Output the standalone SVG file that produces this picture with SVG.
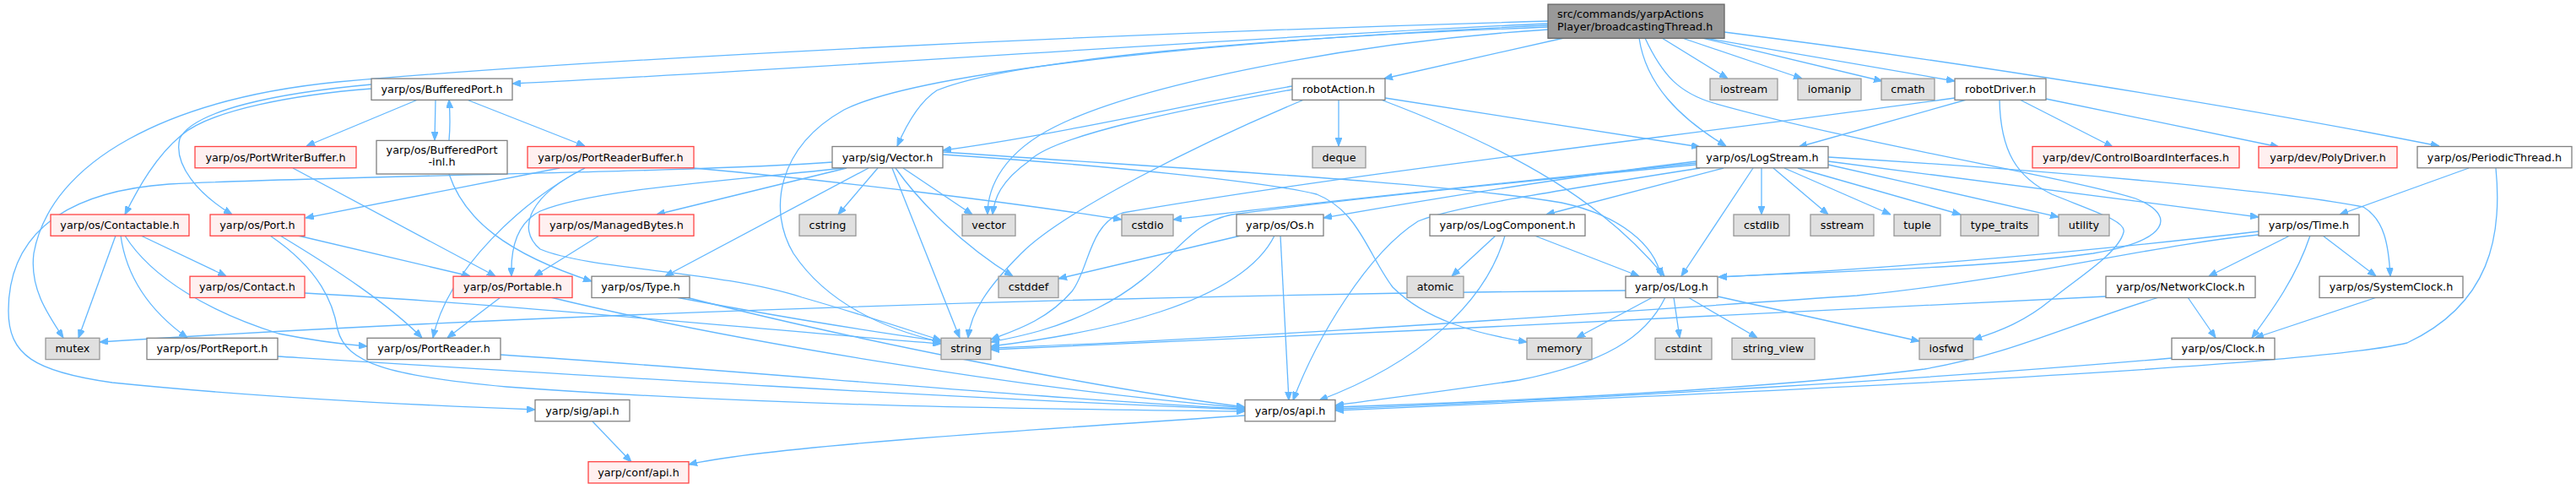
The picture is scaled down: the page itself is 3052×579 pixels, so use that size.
<svg xmlns="http://www.w3.org/2000/svg" width="3052" height="579" viewBox="0 0 3052 579">
<style>
text{font-family:"DejaVu Sans","Liberation Sans",sans-serif;font-size:12.8px;text-anchor:middle;fill:#000}
.n rect{fill:#fff;stroke:#808080;stroke-width:1.3}
.s rect{fill:#e0e0e0;stroke:#999;stroke-width:1.3}
.r rect{fill:#fff0f0;stroke:#f44;stroke-width:1.3}
.root rect{fill:#999;stroke:#666;stroke-width:1.3}
#edges path{fill:none;stroke:#63b8ff;stroke-width:1.3;marker-end:url(#a)}
</style>
<defs>
<marker id="a" markerWidth="10" markerHeight="8" refX="10" refY="4" orient="auto" markerUnits="userSpaceOnUse"><path d="M0,0L10,4L0,8z" fill="#63b8ff" stroke="#63b8ff" stroke-width="1"/></marker>
</defs>
<rect width="3052" height="579" fill="#fff"/>
<g id="edges">
<path d="M1834,28 C1500,42 1000,80 607,99"/>
<path d="M1834,25 C1300,40 700,70 400,97 C200,117 60,190 40,300 C35,340 55,370 75,400"/>
<path d="M1853,45 L1640,93"/>
<path d="M1942,45 C1950,100 1990,140 2045,173"/>
<path d="M1969,45 L2047,93"/>
<path d="M1993,45 L2135,93"/>
<path d="M2017,45 L2230,96"/>
<path d="M2020,45 L2316,96"/>
<path d="M2043,38 C2300,70 2650,125 2890,173"/>
<path d="M1834,32 C1500,45 1200,70 1110,107 C1090,120 1075,145 1063,173"/>
<path d="M1834,35 C1600,50 1350,100 1250,150 C1190,180 1170,220 1170,254"/>
<path d="M1834,30 C1500,45 1100,80 1000,130 C920,175 910,250 940,300 C980,360 1050,390 1115,405"/>
<path d="M1949,45 C1970,90 1990,110 2030,122 C2200,170 2450,210 2530,235 C2580,255 2570,285 2480,300 C2350,318 2150,322 2036,328"/>
<path d="M1586,118 L1586,173"/>
<path d="M1531,102 C1400,125 1250,160 1117,178"/>
<path d="M1531,106 C1400,130 1250,160 1220,190 C1185,215 1178,235 1176,254"/>
<path d="M1545,118 C1420,170 1260,250 1210,300 C1170,340 1150,370 1147,400"/>
<path d="M1641,116 L2014,174"/>
<path d="M1636,118 C1800,180 1900,240 1972,327"/>
<path d="M1117,180 C1400,200 1700,215 1850,240 C1920,255 1960,290 1968,327"/>
<path d="M1117,183 C1300,195 1500,215 1560,230 C1610,250 1620,300 1650,340 C1690,380 1750,395 1809,405"/>
<path d="M2330,118 L2131,174"/>
<path d="M2316,116 C2000,160 1600,205 1330,252 C1290,265 1290,320 1270,345 C1240,380 1200,392 1174,402"/>
<path d="M2393,118 L2503,174"/>
<path d="M2424,117 L2700,174"/>
<path d="M2369,118 C2370,180 2390,210 2431,230 C2480,250 2520,262 2516,275 C2510,300 2460,330 2430,355 C2400,380 2370,392 2338,402"/>
<path d="M2087,199 L2087,254"/>
<path d="M2101,199 L2166,254"/>
<path d="M2114,199 L2240,254"/>
<path d="M2130,199 L2323,254"/>
<path d="M2166,195 L2439,257"/>
<path d="M2166,191 L2676,257"/>
<path d="M2166,186 C2400,200 2700,225 2800,245 C2825,260 2830,290 2832,327"/>
<path d="M2077,199 L1992,327"/>
<path d="M2010,191 C1850,210 1700,235 1568,258"/>
<path d="M2010,193 C1800,215 1550,240 1390,260"/>
<path d="M2010,195 C1800,215 1600,235 1460,254 C1400,265 1390,320 1300,365 C1250,390 1210,398 1174,405"/>
<path d="M2014,199 C1850,225 1720,245 1680,262 C1620,300 1560,400 1532,474"/>
<path d="M2042,199 L1832,254"/>
<path d="M1772,279 L1720,327"/>
<path d="M1783,279 C1760,360 1680,430 1563,474"/>
<path d="M1818,279 L1942,327"/>
<path d="M1470,279 L1254,330"/>
<path d="M1510,279 C1470,360 1300,395 1174,410"/>
<path d="M1517,279 L1527,474"/>
<path d="M1926,344 C1200,350 500,380 118,405"/>
<path d="M1958,352 L1868,400"/>
<path d="M1983,352 L1990,400"/>
<path d="M2000,352 L2082,400"/>
<path d="M2035,351 L2274,404"/>
<path d="M1973,352 C1950,400 1900,430 1800,450 C1700,465 1640,472 1582,480"/>
<path d="M2676,274 C2500,295 2250,318 2036,328"/>
<path d="M2676,278 C2550,290 2400,330 2200,350 C1900,370 1500,400 1174,412"/>
<path d="M2713,279 L2617,327"/>
<path d="M2752,279 L2815,327"/>
<path d="M2737,279 C2720,330 2690,370 2668,400"/>
<path d="M2592,352 L2625,400"/>
<path d="M2558,352 C2450,385 2380,420 2280,437 C2100,460 1800,475 1582,482"/>
<path d="M2495,351 C2200,368 1600,395 1174,414"/>
<path d="M2816,352 L2672,400"/>
<path d="M2573,424 C2300,448 1900,472 1582,484"/>
<path d="M2925,199 L2772,254"/>
<path d="M2957,199 C2965,280 2950,360 2852,406 C2750,430 2300,455 1582,486"/>
<path d="M516,118 L515,166"/>
<path d="M532,166 C534,145 533,132 532,118"/>
<path d="M553,118 L693,173"/>
<path d="M495,118 L363,173"/>
<path d="M440,105 C350,112 250,130 215,160 C185,185 165,220 148,254"/>
<path d="M440,100 C330,110 230,130 213,164 C205,195 235,230 275,254"/>
<path d="M347,199 L587,327"/>
<path d="M663,199 L362,258"/>
<path d="M693,199 C620,236 530,320 513,400"/>
<path d="M693,199 C630,230 610,270 640,295 C700,320 850,320 950,352 C1030,375 1080,392 1115,403"/>
<path d="M822,199 C1000,215 1200,240 1329,260"/>
<path d="M986,192 C800,205 400,208 200,218 C60,228 10,290 10,368 C10,420 40,440 133,453 C300,470 500,480 634,485"/>
<path d="M1000,199 C850,215 700,225 640,250 C610,265 605,300 606,327"/>
<path d="M1003,199 L778,254"/>
<path d="M1029,199 L788,327"/>
<path d="M1040,199 L993,254"/>
<path d="M1057,199 L1137,400"/>
<path d="M1061,199 C1090,240 1140,290 1200,327"/>
<path d="M1070,199 L1152,254"/>
<path d="M710,279 L633,327"/>
<path d="M137,279 L93,400"/>
<path d="M167,279 L268,327"/>
<path d="M143,279 C150,330 180,370 222,400"/>
<path d="M148,279 C180,330 250,370 330,395 C380,405 410,408 435,410"/>
<path d="M320,279 C380,320 395,360 400,390 C410,430 460,445 600,458 C900,480 1200,484 1475,487"/>
<path d="M332,279 C400,320 460,360 500,400"/>
<path d="M353,279 L557,327"/>
<path d="M361,347 C600,360 900,390 1115,407"/>
<path d="M329,422 C700,445 1100,470 1475,485"/>
<path d="M593,420 C900,440 1200,470 1475,484"/>
<path d="M593,352 L530,400"/>
<path d="M652,352 C850,400 1200,460 1475,483"/>
<path d="M801,352 C950,380 1050,395 1115,404"/>
<path d="M813,352 C1000,400 1300,460 1475,482"/>
<path d="M532,206 C550,260 600,300 701,333"/>
<path d="M1475,492 C1200,510 900,530 816,550"/>
<path d="M702,499 L748,547"/>
</g>
<g id="src" class="root"><rect x="1834" y="5.1" width="209" height="40.2"/><text x="1845" y="21" style="text-anchor:start">src/commands/yarpActions</text><text x="1845" y="35.6" style="text-anchor:start">Player/broadcastingThread.h</text></g>
<g id="bufferedport" class="n"><rect x="440" y="93.1" width="167" height="25.3"/><text x="523.5" y="110.1">yarp/os/BufferedPort.h</text></g>
<g id="robotaction" class="n"><rect x="1531" y="93.1" width="110" height="25.3"/><text x="1586" y="110.1">robotAction.h</text></g>
<g id="iostream" class="s"><rect x="2026" y="93.1" width="80" height="25.3"/><text x="2066" y="110.1">iostream</text></g>
<g id="iomanip" class="s"><rect x="2130" y="93.1" width="75" height="25.3"/><text x="2167.5" y="110.1">iomanip</text></g>
<g id="cmath" class="s"><rect x="2229" y="93.1" width="63" height="25.3"/><text x="2260.5" y="110.1">cmath</text></g>
<g id="robotdriver" class="n"><rect x="2316" y="93.1" width="108" height="25.3"/><text x="2370" y="110.1">robotDriver.h</text></g>
<g id="portwriterbuffer" class="r"><rect x="231" y="173.5" width="191" height="25.3"/><text x="326.5" y="190.6">yarp/os/PortWriterBuffer.h</text></g>
<g id="bufferedportinl" class="n"><rect x="446" y="166.4" width="155" height="39.6"/><text x="523.5" y="182.3">yarp/os/BufferedPort</text><text x="523.5" y="196">-inl.h</text></g>
<g id="portreaderbuffer" class="r"><rect x="625" y="173.5" width="197" height="25.3"/><text x="723.5" y="190.6">yarp/os/PortReaderBuffer.h</text></g>
<g id="sigvector" class="n"><rect x="986" y="173.5" width="131" height="25.3"/><text x="1051.5" y="190.6">yarp/sig/Vector.h</text></g>
<g id="deque" class="s"><rect x="1555" y="173.5" width="63" height="25.3"/><text x="1586.5" y="190.6">deque</text></g>
<g id="logstream" class="n"><rect x="2010" y="173.5" width="156" height="25.3"/><text x="2088" y="190.6">yarp/os/LogStream.h</text></g>
<g id="controlboard" class="r"><rect x="2408" y="173.5" width="245" height="25.3"/><text x="2530.5" y="190.6">yarp/dev/ControlBoardInterfaces.h</text></g>
<g id="polydriver" class="r"><rect x="2676" y="173.5" width="164" height="25.3"/><text x="2758" y="190.6">yarp/dev/PolyDriver.h</text></g>
<g id="periodicthread" class="n"><rect x="2864" y="173.5" width="183" height="25.3"/><text x="2955.5" y="190.6">yarp/os/PeriodicThread.h</text></g>
<g id="contactable" class="r"><rect x="60" y="254" width="164" height="25.3"/><text x="142" y="271">yarp/os/Contactable.h</text></g>
<g id="port" class="r"><rect x="249" y="254" width="112" height="25.3"/><text x="305" y="271">yarp/os/Port.h</text></g>
<g id="managedbytes" class="r"><rect x="639" y="254" width="183" height="25.3"/><text x="730.5" y="271">yarp/os/ManagedBytes.h</text></g>
<g id="cstring" class="s"><rect x="947" y="254" width="67" height="25.3"/><text x="980.5" y="271">cstring</text></g>
<g id="vector" class="s"><rect x="1140" y="254" width="63" height="25.3"/><text x="1171.5" y="271">vector</text></g>
<g id="cstdio" class="s"><rect x="1329" y="254" width="61" height="25.3"/><text x="1359.5" y="271">cstdio</text></g>
<g id="os" class="n"><rect x="1465" y="254" width="103" height="25.3"/><text x="1516.5" y="271">yarp/os/Os.h</text></g>
<g id="logcomponent" class="n"><rect x="1694" y="254" width="184" height="25.3"/><text x="1786" y="271">yarp/os/LogComponent.h</text></g>
<g id="cstdlib" class="s"><rect x="2054" y="254" width="66" height="25.3"/><text x="2087" y="271">cstdlib</text></g>
<g id="sstream" class="s"><rect x="2145" y="254" width="75" height="25.3"/><text x="2182.5" y="271">sstream</text></g>
<g id="tuple" class="s"><rect x="2244" y="254" width="55" height="25.3"/><text x="2271.5" y="271">tuple</text></g>
<g id="typetraits" class="s"><rect x="2323" y="254" width="92" height="25.3"/><text x="2369" y="271">type_traits</text></g>
<g id="utility" class="s"><rect x="2439" y="254" width="60" height="25.3"/><text x="2469" y="271">utility</text></g>
<g id="time" class="n"><rect x="2676" y="254" width="119" height="25.3"/><text x="2735.5" y="271">yarp/os/Time.h</text></g>
<g id="contact" class="r"><rect x="225" y="327.2" width="136" height="25.3"/><text x="293" y="344.2">yarp/os/Contact.h</text></g>
<g id="portable" class="r"><rect x="537" y="327.2" width="141" height="25.3"/><text x="607.5" y="344.2">yarp/os/Portable.h</text></g>
<g id="type" class="n"><rect x="701" y="327.2" width="116" height="25.3"/><text x="759" y="344.2">yarp/os/Type.h</text></g>
<g id="cstddef" class="s"><rect x="1183" y="327.2" width="71" height="25.3"/><text x="1218.5" y="344.2">cstddef</text></g>
<g id="atomic" class="s"><rect x="1667" y="327.2" width="67" height="25.3"/><text x="1700.5" y="344.2">atomic</text></g>
<g id="log" class="n"><rect x="1926" y="327.2" width="109" height="25.3"/><text x="1980.5" y="344.2">yarp/os/Log.h</text></g>
<g id="networkclock" class="n"><rect x="2495" y="327.2" width="177" height="25.3"/><text x="2583.5" y="344.2">yarp/os/NetworkClock.h</text></g>
<g id="systemclock" class="n"><rect x="2748" y="327.2" width="170" height="25.3"/><text x="2833" y="344.2">yarp/os/SystemClock.h</text></g>
<g id="mutex" class="s"><rect x="54" y="400.3" width="64" height="25.3"/><text x="86" y="417.3">mutex</text></g>
<g id="portreport" class="n"><rect x="174" y="400.3" width="155" height="25.3"/><text x="251.5" y="417.3">yarp/os/PortReport.h</text></g>
<g id="portreader" class="n"><rect x="435" y="400.3" width="158" height="25.3"/><text x="514" y="417.3">yarp/os/PortReader.h</text></g>
<g id="string" class="s"><rect x="1115" y="400.3" width="59" height="25.3"/><text x="1144.5" y="417.3">string</text></g>
<g id="memory" class="s"><rect x="1809" y="400.3" width="77" height="25.3"/><text x="1847.5" y="417.3">memory</text></g>
<g id="cstdint" class="s"><rect x="1961" y="400.3" width="67" height="25.3"/><text x="1994.5" y="417.3">cstdint</text></g>
<g id="stringview" class="s"><rect x="2052" y="400.3" width="98" height="25.3"/><text x="2101" y="417.3">string_view</text></g>
<g id="iosfwd" class="s"><rect x="2274" y="400.3" width="64" height="25.3"/><text x="2306" y="417.3">iosfwd</text></g>
<g id="clock" class="n"><rect x="2573" y="400.3" width="122" height="25.3"/><text x="2634" y="417.3">yarp/os/Clock.h</text></g>
<g id="sigapi" class="n"><rect x="634" y="473.5" width="112" height="25.3"/><text x="690" y="490.6">yarp/sig/api.h</text></g>
<g id="osapi" class="n"><rect x="1475" y="473.5" width="107" height="25.3"/><text x="1528.5" y="490.6">yarp/os/api.h</text></g>
<g id="confapi" class="r"><rect x="697" y="546.7" width="119" height="25.3"/><text x="756.5" y="563.7">yarp/conf/api.h</text></g>
</svg>
